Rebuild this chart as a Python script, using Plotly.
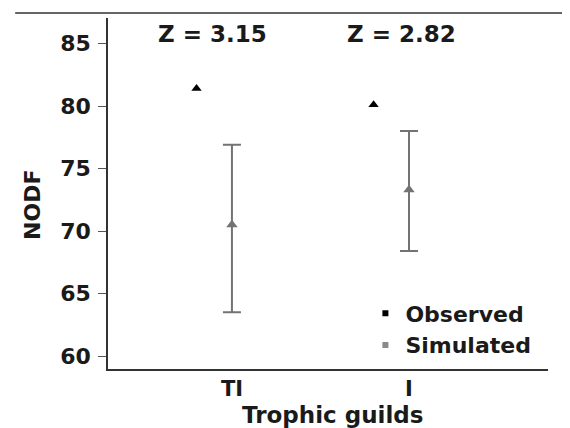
import plotly.graph_objects as go

categories = ["TI", "I"]
cat_pos = [1, 2]
observed = [81.4, 80.1]
simulated_mean = [70.5, 73.3]
simulated_upper = [76.9, 78.0]
simulated_lower = [63.5, 68.4]
z_labels = ["Z = 3.15", "Z = 2.82"]
y_ticks = [60, 65, 70, 75, 80, 85]

FONT = "DejaVu Sans, Liberation Sans, sans-serif"
obs_x = [p - 0.2 for p in cat_pos]
z_x = [0.89, 1.96]

err_plus = [u - m for u, m in zip(simulated_upper, simulated_mean)]
err_minus = [m - l for m, l in zip(simulated_mean, simulated_lower)]

fig = go.Figure()
fig.add_trace(go.Scatter(
    x=cat_pos, y=simulated_mean, mode="markers",
    marker=dict(symbol="triangle-up", size=10, color="#737373"),
    error_y=dict(type="data", symmetric=False, array=err_plus, arrayminus=err_minus,
                 color="#737373", thickness=2, width=9),
    showlegend=False))
fig.add_trace(go.Scatter(
    x=obs_x, y=observed, mode="markers",
    marker=dict(symbol="triangle-up", size=9, color="black"),
    showlegend=False))
# legend entries
fig.add_trace(go.Scatter(x=[None], y=[None], mode="markers", name="Observed",
                         marker=dict(symbol="square", size=6, color="black")))
fig.add_trace(go.Scatter(x=[None], y=[None], mode="markers", name="Simulated",
                         marker=dict(symbol="square", size=6, color="#8a8a8a")))

TF = dict(family=FONT, size=23, color="#1a1a1a", weight="bold")
TICKF = dict(family=FONT, size=22, color="#1a1a1a", weight="bold")

for zx, zt in zip(z_x, z_labels):
    fig.add_annotation(x=zx, y=85.75, xref="x", yref="y", text=zt, showarrow=False,
                       xanchor="center", font=TF)

fig.add_annotation(x=-0.173, y=0.467, xref="paper", yref="paper", text="NODF",
                   textangle=-90, showarrow=False, xanchor="center", yanchor="middle",
                   font=dict(family=FONT, size=22, color="#1a1a1a", weight="bold"))
fig.add_annotation(x=0.51, y=-0.13, xref="paper", yref="paper", text="Trophic guilds",
                   showarrow=False, xanchor="center", yanchor="middle", font=TF)

fig.add_shape(type="line", xref="paper", yref="paper", x0=-0.211, x1=1.06, y0=1.014, y1=1.014,
              line=dict(color="#333333", width=1.5))

fig.update_layout(
    width=562, height=420,
    margin=dict(l=100, r=22, t=10, b=59),
    paper_bgcolor="white", plot_bgcolor="white",
    font=TICKF,
    legend=dict(x=0.585, y=0.218, xanchor="left", yanchor="top", bgcolor="rgba(0,0,0,0)",
                font=dict(family=FONT, size=22, color="#1a1a1a", weight="bold"),
                itemwidth=30, tracegroupgap=0),
)
fig.update_xaxes(range=[0.30, 2.785], tickvals=cat_pos, ticktext=categories,
                 showgrid=False, zeroline=False, showline=True, linecolor="#333333",
                 linewidth=1.5, ticks="", ticklabelstandoff=0,
                 tickfont=dict(family=FONT, size=21, color="#1a1a1a", weight="bold"))
fig.update_yaxes(range=[58.96, 87.04], tickvals=y_ticks, showgrid=False, zeroline=False,
                 showline=True, linecolor="#333333", linewidth=1.5, ticks="outside",
                 ticklen=8, tickcolor="#555555", tickwidth=1, ticklabelstandoff=3)

fig.write_html("out.html")
